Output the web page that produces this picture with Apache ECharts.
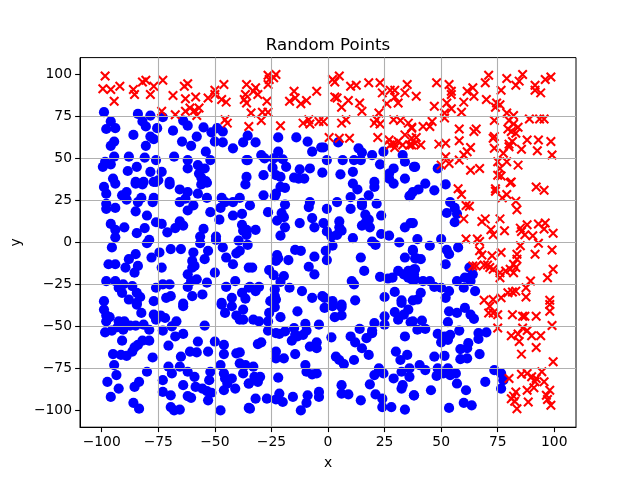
<!DOCTYPE html>
<html><head><meta charset="utf-8"><style>html,body{margin:0;background:#fff}#c{width:640px;height:480px}</style>
<script src="https://cdn.jsdelivr.net/npm/echarts@6/dist/echarts.min.js"></script></head><body><div id="c"></div>
<script>
const tickValues=[-100,-75,-50,-25,0,25,50,75,100];
const bluePoints=[[-99,77.5],[-84,76.5],[-78.5,75.5],[-73,74.5],[-82,72],[-80.5,69],[-96,72],[-98,67.5],[-94,68],[-75.5,68],[-68.5,66.5],[-64,72.5],[-62,69.5],[-55,68.5],[-49,68],[-46.5,66],[-51.5,65.5],[-86,64],[-78.5,63],[-77,61.5],[-94.5,60],[-96,57.5],[-80.5,57.5],[-64.5,60],[-58,63],[-60.5,57.5],[-50,60],[-46.5,59.5],[-42,56],[-37.5,59.5],[-35.5,63.5],[-54,54],[-94.5,51],[-88,51],[-81,50.5],[-76,49],[-68,51],[-62,49],[-52,49],[-36,49],[-98.5,48],[-99.5,45],[-96,46.5],[-84.5,45],[-88.5,42.5],[-78.5,42],[-62,44],[-57.5,46],[-54.5,44],[-57,41],[-73.5,42],[-36,39],[-95,38],[-85,36],[-81.5,36],[-75,37],[-70,36],[-77,36],[-56,38.5],[-54,36.5],
[-99,33],[-94,35],[-85,35],[-82,34.5],[-76,36],[-70,34.5],[-65.5,31.5],[-62,30],[-57.5,29],[-53.5,26.5],[-56,34.5],[-53.5,35.5],[-36.5,34.5],[-98,29],[-91,28],[-89,30],[-89,25.5],[-82.5,26.5],[-84,24],[-77,26.5],[-77.5,24],[-65.5,24],[-63,26],[-47,26.5],[-45.5,24],[-42,24],[-39,26.5],[-98,23],[-98,20],[-94,20.5],[-85,18.5],[-59.5,22],[-62,19],[-52,18],[-47.5,20.5],[-80,16],[-42,16],[-38,17],[-48,13.5],[-76,12],[-73.5,11],[-96,11],[-90,9],[-94,7.5],[-94,3],[-81,8.5],[-84.5,5.5],[-71,6],[-67.5,8.5],[-65.5,12.5],[-64,10],[-55,8],[-56.5,3.5],[-56.5,-0.5],[-49.5,3.5],[-49.5,1.5],[-38,10.5],[-37.5,7],[-36,4.5],[-39.5,1],[-79,1.5],[-80,-0.5],[-95.5,-3],[-46.5,-3],[-74.5,-6],[-69.5,-4],[-65,-4],[-59.5,-6],[-53,-5],[-85,-7],[-78,-9],[-88,-10],[-54.5,-10],[-45,-9],[-40.5,-6.5],[-39,-5],[-97,-13],[-94,-13],[-89.5,-15],[-84,-14],[-85.5,-18],[-73.5,-15],[-60,-11],[-59,-14],[-60,-15],[-42,-13],[-62,-19],[-50,-18],[-35,-15],[-98,-23],[-94,-23],[-90.5,-25],[-86.5,-26],[-73,-25],[-70,-25],[-76,-27],[-62,-26.5],[-58,-22],[-60.5,-23],[-53.5,-24],[-41,-23],[-45,-26.5],[-35,-27],[-92.5,-27],[-91,-30],[-84.5,-30],[-83,-32.5],[-88,-34],[-99,-35],[-84.5,-36],[-71.5,-33],[-69.5,-32],[-60,-32],[-55.5,-31],[-77,-35],[-64,-36.5],[-42.5,-33],[-38,-30],[-36.5,-33.5],[-47,-36],
[-99,-40],[-84.5,-37],[-64,-38],[-47,-37],[-42.5,-38],[-37.5,-40],[-98,-43.5],[-96.5,-44.5],[-98,-47],[-82.5,-42],[-45.5,-42],[-40.5,-43.5],[-39,-46],[-37.5,-46],[-77,-43],[-76,-46],[-74,-43.5],[-72,-45],[-67,-47],[-69,-50],[-54.5,-49.5],[-92.5,-47],[-90,-47],[-98.5,-53.5],[-95.5,-52.5],[-93,-50.5],[-90.5,-52],[-87.5,-49.5],[-85,-49.5],[-81.5,-49],[-79,-52],[-73,-52.5],[-67.5,-56],[-64,-54.5],[-91,-58.5],[-79,-58.5],[-82,-58.5],[-84,-61],[-85.5,-62.5],[-86.5,-65],[-70.5,-61.5],[-57.5,-59],[-50,-59],[-46,-61],[-61,-65],[-58,-65.5],[-53,-65],[-46,-66.5],[-95,-66.5],[-91.5,-67],[-89,-67.5],[-77.5,-68.5],[-65,-68],[-40.5,-66],[-39,-65.5],[-39,-72],[-36.5,-73],[-94.5,-73],[-70.5,-74],[-47.5,-73],[-65.5,-74],[-62,-77],[-80,-77],[-69,-78],[-59,-80],[-52,-77],[-46,-78],[-37.5,-78],[-93.5,-79],[-45.5,-81],[-42.5,-81],[-44.5,-84],[-52.5,-82],[-97.5,-83],[-83.5,-83],[-73,-82],[-35,-84],[-85.5,-86],[-92.5,-87],[-64,-85],[-58.5,-86],[-55.5,-87],[-53.5,-88.5],[-51.5,-89.5],[-46,-88],[-41,-87],[-73,-89],[-69.5,-91],[-62,-91.5],[-60.5,-92.5],[-96,-92],[-53,-94],[-86,-95.5],[-83.5,-99],[-69.5,-98],[-68,-100],[-65.5,-99.5],[-47.5,-100],[-35,-98.5],
[-32,59.5],[-22,62.5],[-14,62.5],[-9,60],[-7,54],[-3,56.5],[-2,56.5],[4.5,59.5],[13.5,56],[15,53.5],[19.5,52],[24.5,54],[33,52],[-22,54],[-29.5,52],[-28,50],[-24,50],[-20,49.5],[-35.5,49],[-0.5,49],[6.5,49],[11.5,49],[14.5,49],[23,46.5],[34,48],[-24.5,44.5],[-18.5,45],[-12.5,43.5],[-8,44],[-2.5,41.5],[11,42],[29,44],[27,41],[38,45],[-28.5,40],[-23,40],[-21,39],[-15,38.5],[-13,38],[-10.5,38],[5.5,40.5],[11,35],[20.5,36],[27,38],[34,38],
[13,31.5],[20.5,33],[29,35],[-21,33],[-19,32.5],[-23,29],[-28.5,28],[-23.5,27.5],[10,27],[18,28],[15,23.5],[15,22],[21.5,23],[36.5,28],[36,27.5],[4,24],[-34.5,22],[-19,22.5],[-8,24],[-8.5,21],[-0.5,20],[10,20],[-26.5,18],[-20.5,17.5],[23.5,16],[16.5,16.5],[-19.5,15],[-22.5,13],[-7,14.5],[18,13.5],[16.5,11.5],[-12.5,11.5],[-2,11.5],[5,12.5],[-19,9],[-6,9],[5,9],[15,10],[18.5,9],[36.5,11.5],[34,9],[-32,7.5],[-36,7.5],[-0.5,6.5],[6,7],[-21,4],[1.5,3.5],[4,4.5],[23.5,5],[27,4],[11,2.5],[19.5,0.5],[21,-1.5],[31.5,0],[-35.5,-1.5],[2,-2],[-1,-5],[-14.5,-4.5],[-12,-5],[37.5,-5],[-22.5,-7.5],[-22,-9.5],[-23,-11],[-17.5,-10.5],[-6,-8.5],[-0.5,-10.5],[14.5,-9],[34,-9],[38.5,-9.5],[-8.5,-14.5],[-33.5,-15],[-26,-16.5],[-6,-19],[16,-17],[31,-17],[-24,-19.5],[-19.5,-20],[23,-20.5],[26.5,-21.5],[28.5,-21],[33.5,-19],[35.5,-17],[38,-16],[35.5,-21],[38,-19],[38.5,-22],[-21,-23.5],[10.5,-23],[11.5,-25],[-34.5,-26.5],[-30.5,-26.5],[-32,-29],[-23.5,-28],[-17,-27],[-11.5,-29],[-23.5,-32],[-7,-33],[-2.5,-32],[-1.5,-33],[2,-35],[12,-34.5],[25,-32.5],[29.5,-29.5],[32.5,-34.5],[-25.5,-35],[-23,-34],[6,-37],[37.5,-34.5],
[-23.5,-38.5],[-26,-42],[-21,-44.5],[-13.5,-41],[-1.5,-39],[2,-38],[6,-38.5],[6,-43.5],[3,-44.5],[-33,-46],[-30.5,-47],[-26.5,-47],[-26.5,-52.5],[-23,-54],[-21.5,-54.5],[-19,-53],[-15,-51],[-14.5,-55],[-16,-58.5],[-13.5,-56],[-11,-55],[-10,-48.5],[-9.5,-52.5],[-4,-49],[14,-51.5],[1.5,-56.5],[10,-56],[12,-59.5],[17,-57],[19.5,-54],[19.5,-52.5],[20.5,-48],[25,-44],[25,-49],[29.5,-41.5],[31,-46],[33.5,-43],[35.5,-40],[32.5,-36],[36.5,-47.5],[34,-56],[-29.5,-59.5],[-31,-60.5],[-5,-59.5],[-8,-62],[-5,-63],[15,-63],[18,-67],[-23,-65],[-23,-69],[-19.5,-69],[-14.5,-66.5],[3.5,-68],[5,-70],[7,-72.5],[11.5,-70],[30,-65],[35,-67],[32,-70],[-10,-73],[-33,-74],[-9.5,-77],[-7,-78.5],[-5,-78],[22.5,-75],[20.5,-79],[24.5,-78],[29,-81],[32.5,-77],[36,-75],[36,-80],[33,-85],[32.5,-87],[18.5,-84.5],[-22,-80.5],[-35,-84],[-31,-83],[-32.5,-80],[-30,-80],[-21.5,-90],[-4,-89],[-4,-92],[6,-85],[6,-90],[9,-90.5],[-9,-91],[-9.5,-95.5],[-15.5,-92],[-20,-95],[-23,-93.5],[-27,-93],[-32,-93],[-34.5,-99],[-12,-100],[14.5,-94],[21,-90.5],[24,-93],[24,-98],[28,-98],[34,-99.5],[38,-91],
[38.5,45],[48.5,44],[43,35],[52,34.5],[40,31.5],[37.5,30],[47,31],[54,24],[56,20.5],[52.5,17.5],[57,17],[56,12],[37.5,11.5],[39.5,2],[50,2],[45,-2],[57.5,-3],[37.5,-4.5],[52.5,-4.5],[53.5,-7],[39,-9.5],[41,-10],[52,-13],[62.5,-15],[38.5,-16],[64,-19],[62.5,-21],[60.5,-21],[57,-23],[63,-23],[42,-23],[45,-23],[37,-22],[60,-27],[65,-29],[47,-26.5],[50,-27],[53.5,-29],[52,-33],[41,-30],[39.5,-34],
[41.5,-46.5],[37.5,-47],[39.5,-52],[43,-51.5],[53.5,-41],[57,-42],[60.5,-39],[63,-43],[64.5,-45.5],[53,-47.5],[58,-52.5],[48.5,-54.5],[54,-55],[51.5,-56],[53,-58],[50,-59.5],[66.5,-54],[70,-53.5],[66.5,-57.5],[62,-60],[58.5,-63.5],[61.5,-63],[67,-66.5],[47,-68],[51.5,-67.5],[58.5,-69.5],[61.5,-69],[40.5,-73],[43,-76],[48.5,-75],[53,-75],[48,-79.5],[51,-78],[54,-79],[56.5,-78],[57,-84],[61,-88],[69.5,-83],[73.5,-76],[76.5,-78],[77.5,-82],[76.5,-87],[45.5,-88],[38,-91],[60,-95.5],[63.5,-97],[53.5,-98.5]];
const redPoints=[[-98.5,99],[-99.5,91.5],[-96,91],[-92,93],[-94.5,84],[-86,91],[-85.5,88],[-82,95.5],[-80.5,96.5],[-78.5,88],[-77,93],[-73,96.5],[-68.5,87.5],[-63.5,93],[-62,94.5],[-63,85.5],[-58.5,86.5],[-53,86],[-50,90.5],[-50,88],[-46,94],[-47,85],[-45,83.5],[-73.5,78],[-67.5,76],[-61,80],[-63,78],[-59,78.5],[-57,80],[-58,75.5],[-45.5,73],[-44.5,71],[-36,94],[-36.5,88],[-37,85],[-36,83],[-35,69],
[-32,92],[-33,90],[-31,88],[-27,84],[-34,77],[-29,77.5],[-26.5,77.5],[-29.5,72.5],[-26.5,99.5],[-23,100],[-26,97],[-24,98],[-26.5,94],[-15,90],[-17,84],[-14.5,86],[-12,82.5],[-9.5,84.5],[-5,90],[-21,69.5],[-11,71],[-8.5,73],[-8,70.5],[-4,72],[-2,72],[0.5,62.5],[2,97],[5,99],[3,95.5],[10,93],[12.5,93.5],[18,95],[23,95],[24,89],[27.5,90.5],[29.5,90.5],[34,89],[35,94],[3,86.5],[4,86],[9,84.5],[14,83],[6,80.5],[15,78],[22.5,77],[29.5,86.5],[31,83],[26,82.5],[29,73],[32,72.5],[35.5,71],[37,68],[8,73],[6,71],[21.5,73],[20.5,71],[23,70.5],[34,64],[22,62.5],[5,62],[9.5,62],[27,61],[29,59],[31,60],[27.5,58],[29.5,56.5],[33,58],[36,58],[37,62],
[48,95],[53.5,94],[54.5,90],[54.5,88],[39,87],[47,81],[52.5,83],[54.5,79.5],[51.5,77],[60,83.5],[61.5,90],[64,92],[64.5,87],[59,77.5],[70,85],[69.5,95],[71,99.5],[79,97.5],[76.5,90.5],[83,93.5],[84.5,96],[86,100],[91.5,93.5],[91.5,90.5],[94,89],[96,97],[98.5,98.5],[74.5,83],[76,82],[74,80.5],[79,77],[82,75.5],[73.5,72.5],[89,73.5],[93.5,73.5],[95.5,73.5],[80,72.5],[82,70.5],[84,68.5],[79.5,67.5],[81,66],[83,65],[37,68.5],[42,69],[45,69],[46,72],[51.5,74],[58,67.5],[65.5,67.5],[64.5,66],[58,60.5],[39,62.5],[38.5,59],[37,58],[41,58],[49,58.5],[52,59],[63,56.5],[61.5,54],[60,52],[73,62],[73.5,63],[73.5,56],[77.5,53],[80,58.5],[81.5,60],[80,57],[85.5,55.5],[88,61],[93,61],[98.5,60],[92.5,54.5],[99,52],[52,51],[50,46],[53.5,47],[58,49],[63,43],[67,44],[84,46],[79,48],[75,48],[76,44],[75,40],[76.5,39.5],[81,36],
[57.5,32],[59,28.5],[61,22],[62.5,21.5],[60,14],[92,33],[95.5,31],[74,32],[74,30.5],[79,28.5],[77,26.5],[80.5,35.5],[83,24.5],[83.5,19.5],[69.5,14],[68,12.5],[76,14],[72,7.5],[73,4.5],[78,7],[85,8.5],[88,10.5],[85.5,6.5],[87,4.5],[90.5,4],[93,11],[96,11.5],[95.5,8],[99.5,5.5],[61,2],[66,2],[67,0.5],[85,-2],[93,-0.5],[99,-4.5],[67,-5],[68,-7.5],[72.5,-8],[76.5,-6],[91.5,-7],[83.5,-7],[83.5,-10],[64,-14],[65.5,-14],[69,-13.5],[71.5,-15],[73,-16],[70.5,-13.5],[82,-13],[83,-15],[80.5,-16],[78.5,-17],[76,-18],[76,-21],[82,-18],[99.5,-16],[97,-21],[89.5,-23],[87.5,-27],[83,-29],[79.5,-30],[81.5,-29.5],[87.5,-32.5],[76.5,-33],[73,-34],[69,-34.5],[98,-34.5],
[71,-42],[73,-42],[71.5,-38],[75,-43],[81.5,-43],[86,-44],[87,-44],[92,-44],[98,-41],[98,-37],[75,-51],[99,-49.5],[86,-51],[88,-52.5],[81,-55.5],[84,-54.5],[90,-55.5],[94,-55.5],[84.5,-59],[92,-62.5],[85.5,-66.5],[99.5,-71],[80,-81],[85.5,-78.5],[88,-78],[90,-80],[92,-81],[91.5,-83],[94.5,-77],[95.5,-83],[88,-88],[91,-86.5],[83,-89],[82,-91.5],[81,-93],[82.5,-94.5],[83.5,-99],[88.5,-95],[98,-88],[96.5,-91],[97,-93.5],[98.5,-97]];
const font='DejaVu Sans',fs=13.89;
const minusFmt=v=>String(v).replace('-','\u2212');
function axis(name,gap,lim){return {type:'value',min:-lim,max:lim,name,nameLocation:'middle',nameGap:gap,
 nameTextStyle:{color:'#000',fontFamily:font,fontSize:fs},z:10,
 axisLine:{show:true,onZero:false,lineStyle:{color:'#000',width:1}},
 axisTick:{show:true,length:4.9,inside:false,customValues:tickValues,lineStyle:{color:'#000',width:1.1}},
 axisLabel:{show:true,customValues:tickValues,margin:8,color:'#000',fontFamily:font,fontSize:fs,formatter:minusFmt},
 splitLine:{show:true,showMinLine:false,showMaxLine:false,lineStyle:{color:'#b0b0b0',width:1.1}}};}
const chart=echarts.init(document.getElementById('c'),null,{renderer:'canvas'});
chart.setOption({animation:false,backgroundColor:'#fff',
 title:{text:'Random Points',left:323,top:32,textAlign:'center',textStyle:{color:'#000',fontFamily:font,fontSize:16.67,fontWeight:'normal'}},
 grid:{left:80,right:64,top:57.6,bottom:52.8,show:true,borderColor:'#000',borderWidth:1,backgroundColor:'#fff'},
 xAxis:axis('x',29,109.6),yAxis:axis('y',43,110),
 series:[
  {type:'scatter',name:'blue',data:bluePoints,symbol:'circle',symbolSize:10.2,itemStyle:{color:'#0000ff',opacity:1},silent:true,z:2},
  {type:'scatter',name:'red',data:redPoints,symbol:'path://M0,0L10,10M10,0L0,10',symbolSize:8.5,itemStyle:{color:'none',borderColor:'#ff0000',borderWidth:2.1,opacity:1},silent:true,z:3}
 ]});
</script></body></html>
